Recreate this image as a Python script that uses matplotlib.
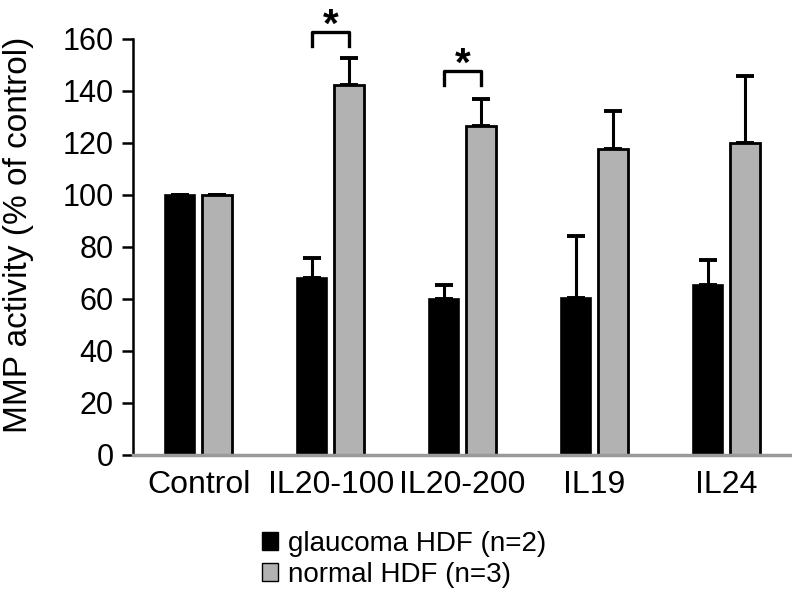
import matplotlib.pyplot as plt
import numpy as np
from matplotlib.patches import Patch

plt.rcParams["font.family"] = ["Liberation Sans", "DejaVu Sans"]

groups = ["Control", "IL20-100", "IL20-200", "IL19", "IL24"]
glaucoma = [100, 68, 60, 60.5, 65.5]
glaucoma_err = [0, 7.7, 5.4, 23.8, 9.6]
normal = [100, 142.3, 126.5, 117.7, 120]
normal_err = [0, 10.4, 10.5, 14.6, 25.8]
series_names = ["glaucoma HDF (n=2)", "normal HDF (n=3)"]

# significance brackets: group index, bracket height
sig_groups = [1, 2]
sig_heights = [162.7, 147.7]

BLACK = "#000000"
GRAY = "#b2b2b2"

fig = plt.figure(figsize=(7.92, 6.04), dpi=100)
ax = fig.add_axes([133 / 792, 1 - 455 / 604, (792 - 133) / 792, (455 - 39) / 604])

x = np.arange(len(groups))
w = 0.227
off = 0.14

ax.bar(x - off, glaucoma, w, color=BLACK, edgecolor="black", linewidth=1.2, zorder=2)
ax.bar(x + off, normal, w, color=GRAY, edgecolor="black", linewidth=2, zorder=2)
ekw = dict(fmt="none", ecolor="black", elinewidth=2.2, capsize=6.5, capthick=2.8, zorder=1)
ax.errorbar(x - off, glaucoma, yerr=[np.zeros(len(x)), glaucoma_err], **ekw)
ax.errorbar(x + off, normal, yerr=[np.zeros(len(x)), normal_err], **ekw)

for g, h in zip(sig_groups, sig_heights):
    xs = [g - off, g - off, g + off, g + off]
    ys = [h - 5.5, h, h, h - 5.5]
    ax.plot(xs, ys, color="black", lw=2.4, clip_on=False)
    ax.text(g, h - 2, "*", ha="center", va="baseline", fontsize=29,
            fontweight="bold", clip_on=False)

ax.set_xlim(-0.5, 4.5)
ax.set_ylim(0, 160)
ax.set_yticks(np.arange(0, 161, 20))
ax.set_xticks(x)
ax.set_xticklabels(groups)
ax.tick_params(axis="x", length=0, pad=11, labelsize=23)
ax.tick_params(axis="y", length=8, width=1.8, pad=6, labelsize=22)
ax.set_ylabel("MMP activity (% of control)", fontsize=24)
ax.yaxis.set_label_coords(-0.15, 0.53)

for s in ["top", "right"]:
    ax.spines[s].set_visible(False)
ax.spines["left"].set_linewidth(1.8)
ax.spines["bottom"].set_color("#9a9a9a")
ax.spines["bottom"].set_linewidth(2.5)

handles = [Patch(facecolor=BLACK, edgecolor="black"),
           Patch(facecolor=GRAY, edgecolor="black")]
fig.legend(handles, series_names, loc="upper center", bbox_to_anchor=(0.51, 0.14),
           frameon=False, fontsize=20, handlelength=0.6, handleheight=0.6,
           handletextpad=0.35, labelspacing=0.2, borderaxespad=0)

fig.savefig("out.png", dpi=100)
